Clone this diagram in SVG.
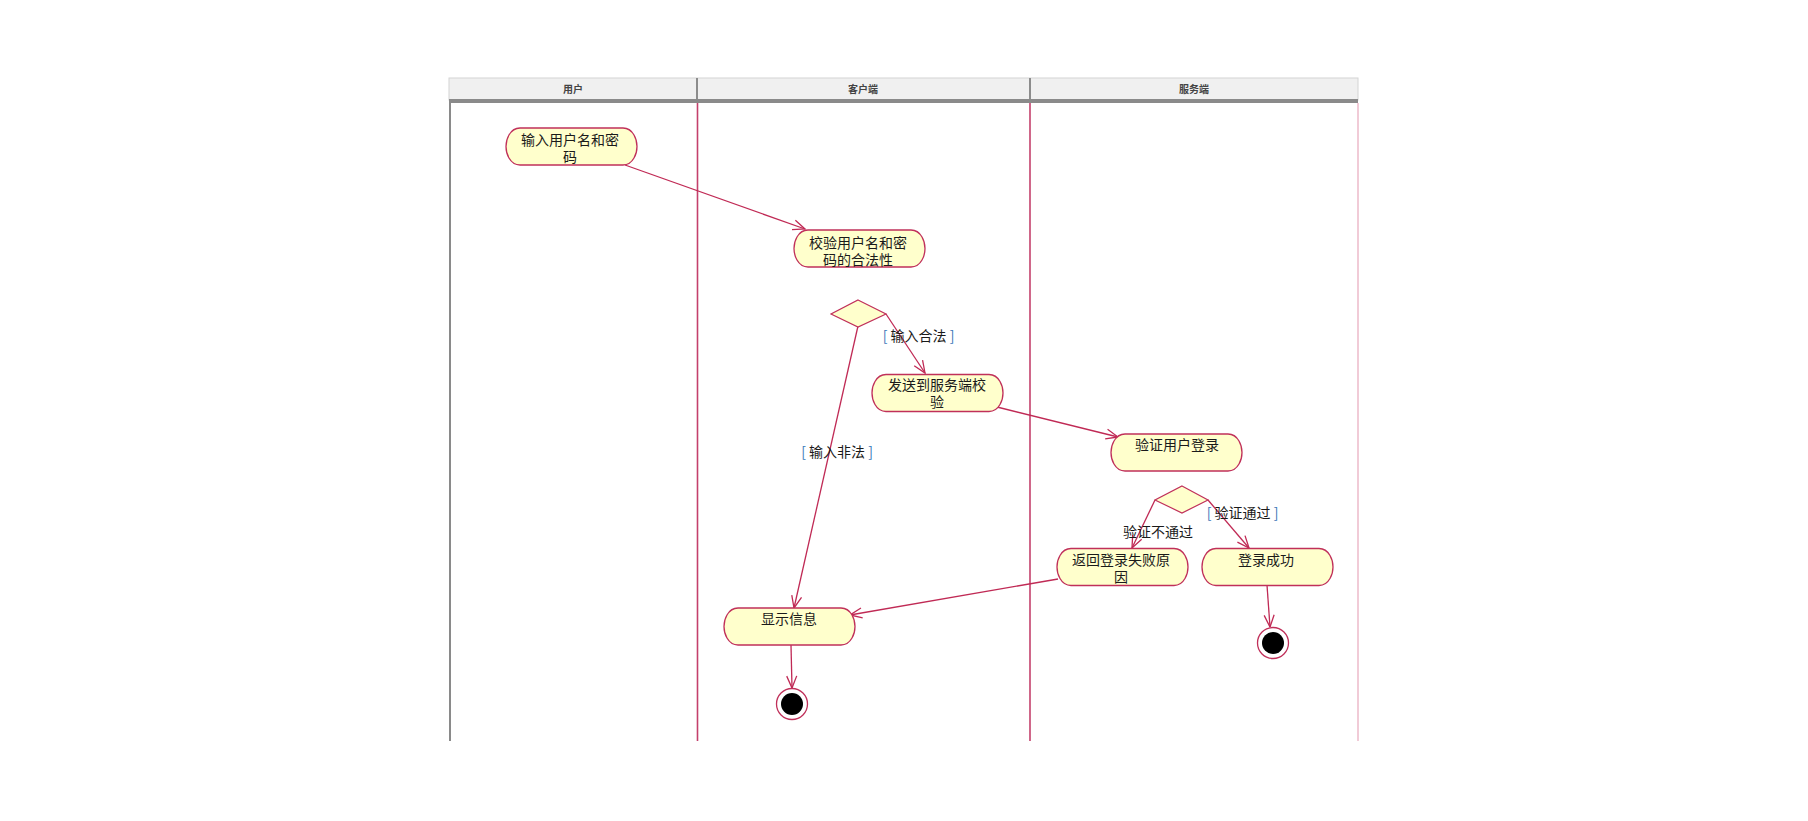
<svg xmlns="http://www.w3.org/2000/svg" width="1808" height="821" viewBox="0 0 1808 821">
  <style>
    .hdr { fill: #f0f0f0; stroke: #d4d4d4; stroke-width: 1; }
    .hdrtxt { font-family: "Noto Sans CJK SC", "Liberation Sans", sans-serif; font-size: 10px; font-weight: bold; fill: #444; text-anchor: middle; }
    .lane { stroke: #c4406c; stroke-width: 1.6; fill: none; }
    .act { fill: #ffffcc; stroke: #c0305a; stroke-width: 1.3; }
    .dec { fill: #ffffcc; stroke: #c0305a; stroke-width: 1.2; }
    .txt { font-family: "Noto Sans CJK SC", "Liberation Sans", sans-serif; font-size: 14px; fill: #1a1a1a; text-anchor: middle; }
    .br { fill: #3a78b8; }
    .flow { stroke: #c02a55; stroke-width: 1.3; fill: none; marker-end: url(#open); }
    .endo { fill: #fff; stroke: #c0305a; stroke-width: 1.3; }
  </style>
  <defs>
    <marker id="open" viewBox="-14 -7 16 14" refX="0" refY="0" markerWidth="16" markerHeight="14" markerUnits="userSpaceOnUse" orient="auto">
      <path d="M-12,-5 L0,0 L-12,5" fill="none" stroke="#c02a55" stroke-width="1.3"/>
    </marker>
    <!-- activity state outline: 131 wide, 37 high, chamfered round ends -->
    <path id="actshape" d="M14,0 H117 Q124,0 128,7 Q131,12 131,18.5 Q131,25 128,30 Q124,37 117,37 H14 Q7,37 3,30 Q0,25 0,18.5 Q0,12 3,7 Q7,0 14,0 Z"/>
  </defs>

  <rect width="1808" height="821" fill="#fff"/>

  <!-- swimlane frame -->
  <g id="swimlanes">
    <rect class="hdr" x="449" y="78" width="909" height="22"/>
    <line x1="697" y1="78" x2="697" y2="100" stroke="#8c8c8c" stroke-width="2"/>
    <line x1="1030" y1="78" x2="1030" y2="100" stroke="#8c8c8c" stroke-width="2"/>
    <rect x="449" y="99" width="909" height="4" fill="#8a8a8a"/>
    <text class="hdrtxt" x="573" y="93">用户</text>
    <text class="hdrtxt" x="863" y="93">客户端</text>
    <text class="hdrtxt" x="1194" y="93">服务端</text>
    <line x1="450" y1="103" x2="450" y2="741" stroke="#8a8a8a" stroke-width="2"/>
    <line class="lane" x1="697.5" y1="103" x2="697.5" y2="741"/>
    <line class="lane" x1="1030" y1="103" x2="1030" y2="741"/>
    <line x1="1358" y1="103" x2="1358" y2="741" stroke="#e8a8bc" stroke-width="1.2"/>
  </g>

  <!-- transitions -->
  <g id="connectors">
    <line class="flow" x1="625" y1="165" x2="805" y2="229"/>
    <line class="flow" x1="886" y1="314" x2="925" y2="373"/>
    <line class="flow" x1="858" y1="326" x2="794" y2="608"/>
    <line class="flow" x1="997" y1="407" x2="1118" y2="437"/>
    <line class="flow" x1="1155" y1="500" x2="1132" y2="548"/>
    <line class="flow" x1="1208" y1="500" x2="1249" y2="548"/>
    <line class="flow" x1="1058" y1="579" x2="850" y2="615"/>
    <line class="flow" x1="791" y1="645" x2="792" y2="688"/>
    <line class="flow" x1="1267" y1="585" x2="1270" y2="627"/>
    <text class="txt" x="918.5" y="341"><tspan class="br">[</tspan> 输入合法 <tspan class="br">]</tspan></text>
    <text class="txt" x="837" y="457"><tspan class="br">[</tspan> 输入非法 <tspan class="br">]</tspan></text>
    <text class="txt" x="1242.5" y="518"><tspan class="br">[</tspan> 验证通过 <tspan class="br">]</tspan></text>
    <text class="txt" x="1158" y="537">验证不通过</text>
  </g>

  <g id="input-credentials">
    <use href="#actshape" class="act" x="506" y="128"/>
    <text class="txt" x="570" y="145">输入用户名和密</text>
    <text class="txt" x="570" y="162">码</text>
  </g>

  <g id="check-credentials">
    <use href="#actshape" class="act" x="794" y="230"/>
    <text class="txt" x="858" y="248">校验用户名和密</text>
    <text class="txt" x="858" y="265">码的合法性</text>
  </g>

  <g id="decision-input">
    <polygon class="dec" points="858,300 886,314 858,327 831,314"/>
  </g>

  <g id="send-to-server">
    <use href="#actshape" class="act" x="872" y="374.5"/>
    <text class="txt" x="937" y="390">发送到服务端校</text>
    <text class="txt" x="937" y="407">验</text>
  </g>

  <g id="verify-login">
    <use href="#actshape" class="act" x="1111" y="434"/>
    <text class="txt" x="1177" y="450">验证用户登录</text>
  </g>

  <g id="decision-verify">
    <polygon class="dec" points="1182,486 1208,500 1182,513 1155,500"/>
  </g>

  <g id="return-failure">
    <use href="#actshape" class="act" x="1057" y="548.5"/>
    <text class="txt" x="1121" y="565">返回登录失败原</text>
    <text class="txt" x="1121" y="582">因</text>
  </g>

  <g id="login-success">
    <use href="#actshape" class="act" x="1202" y="548.5"/>
    <text class="txt" x="1266" y="565">登录成功</text>
  </g>

  <g id="show-info">
    <use href="#actshape" class="act" x="724" y="608"/>
    <text class="txt" x="789" y="624">显示信息</text>
  </g>

  <g id="end-client">
    <circle class="endo" cx="792" cy="704" r="15.5"/>
    <circle cx="792" cy="704" r="11" fill="#000"/>
  </g>

  <g id="end-server">
    <circle class="endo" cx="1273" cy="643" r="15.5"/>
    <circle cx="1273" cy="643" r="11" fill="#000"/>
  </g>
</svg>
